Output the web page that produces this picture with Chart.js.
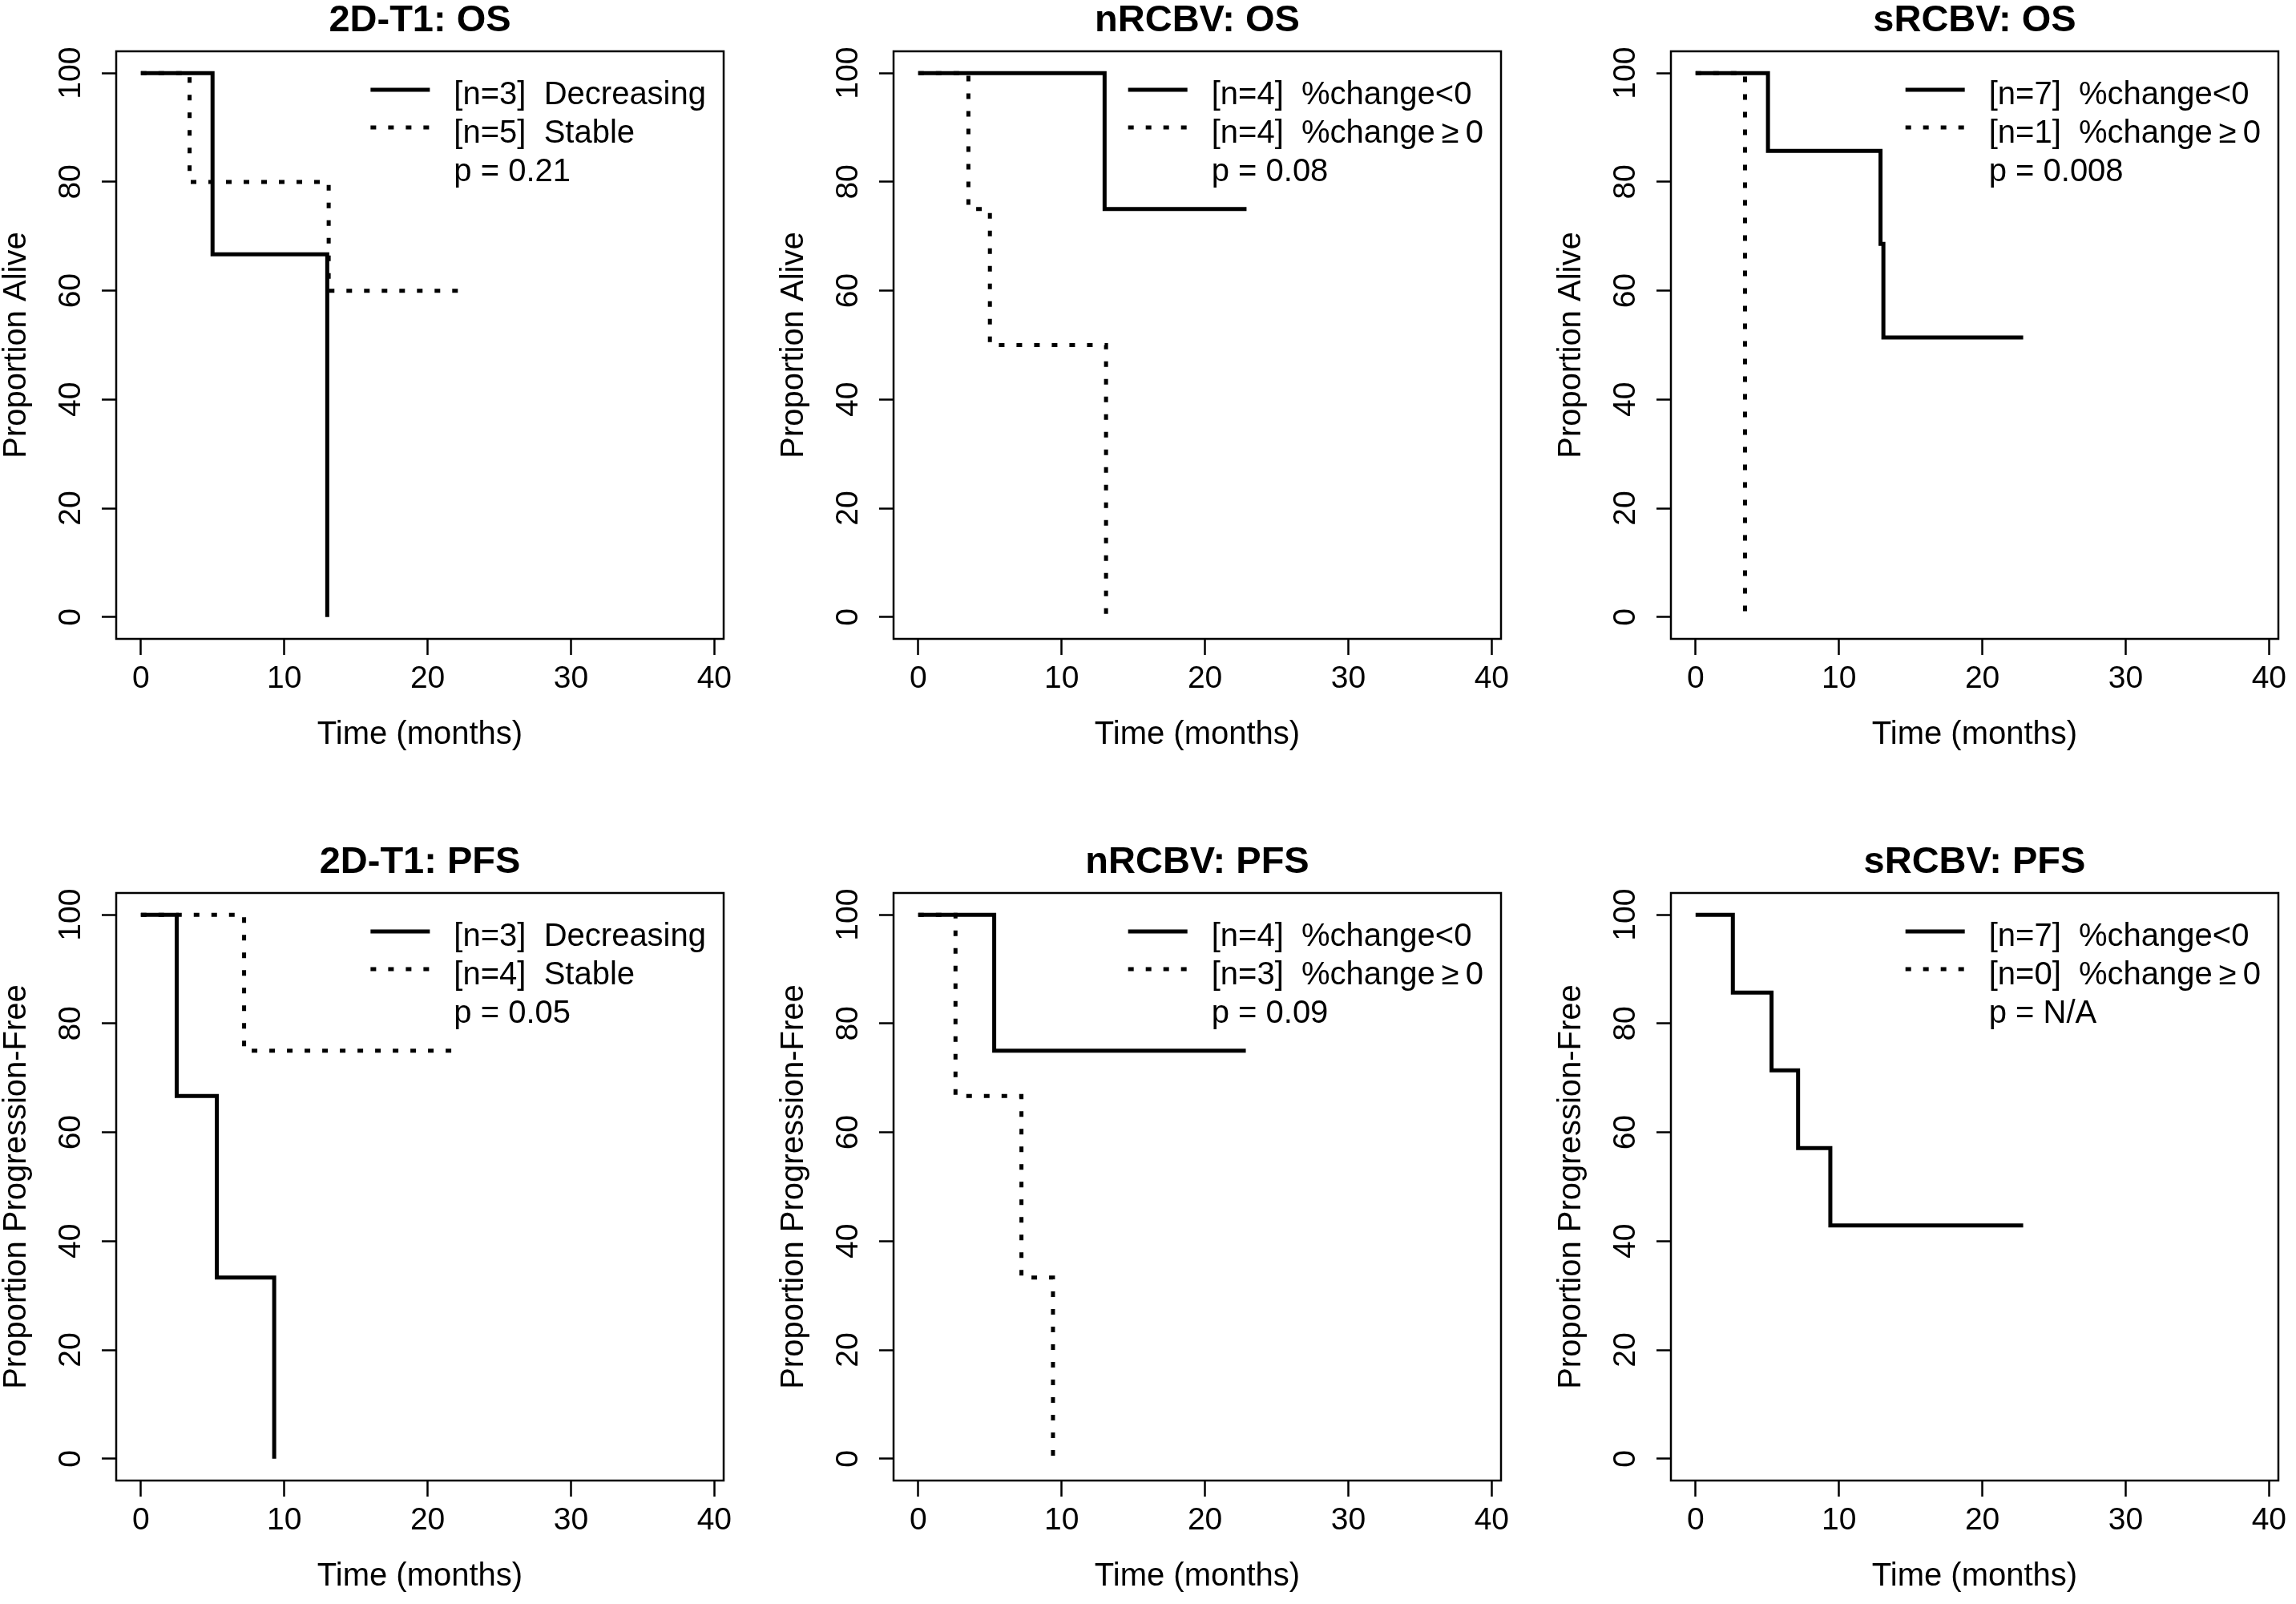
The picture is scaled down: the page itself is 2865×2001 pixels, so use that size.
<!DOCTYPE html>
<html>
<head>
<meta charset="utf-8">
<title>Kaplan-Meier curves</title>
<script src="https://cdn.jsdelivr.net/npm/chart.js@4/dist/chart.umd.min.js"></script>
<style>
  html, body { margin: 0; padding: 0; background: #fff; overflow: hidden; }
  #wrap { position: relative; width: 2865px; height: 2001px; background: #fff; }
  canvas { position: absolute; }
</style>
</head>
<body>
<div id="wrap"></div>
<script>
// ---------- data ----------
const xTickValues = [0, 10, 20, 30, 40];
const yTickValues = [0, 20, 40, 60, 80, 100];

const titles = ['2D-T1: OS', 'nRCBV: OS', 'sRCBV: OS', '2D-T1: PFS', 'nRCBV: PFS', 'sRCBV: PFS'];
const yTitles = ['Proportion Alive', 'Proportion Alive', 'Proportion Alive',
                 'Proportion Progression-Free', 'Proportion Progression-Free', 'Proportion Progression-Free'];
const xTitle = 'Time (months)';

const legendSolid = ['[n=3]  Decreasing', '[n=4]  %change<0', '[n=7]  %change<0',
                     '[n=3]  Decreasing', '[n=4]  %change<0', '[n=7]  %change<0'];
const legendDotted = ['[n=5]  Stable', '[n=4]  %change\u2009\u2265\u20090', '[n=1]  %change\u2009\u2265\u20090',
                      '[n=4]  Stable', '[n=3]  %change\u2009\u2265\u20090', '[n=0]  %change\u2009\u2265\u20090'];
const pValues = ['p = 0.21', 'p = 0.08', 'p = 0.008', 'p = 0.05', 'p = 0.09', 'p = N/A'];

// Kaplan-Meier step curves: time (months) and survival (%)
const osT1DecTime = [0, 5.0, 13.0];
const osT1DecSurv = [100, 66.7, 0];
const osT1StaTime = [0, 3.4, 13.1, 22.5];
const osT1StaSurv = [100, 80, 60, 60];

const osNNegTime = [0, 13.0, 22.9];
const osNNegSurv = [100, 75, 75];
const osNPosTime = [0, 3.5, 5.0, 13.1];
const osNPosSurv = [100, 75, 50, 0];

const osSNegTime = [0, 5.05, 12.9, 13.1, 22.85];
const osSNegSurv = [100, 85.7, 68.6, 51.4, 51.4];
const osSPosTime = [0, 3.45];
const osSPosSurv = [100, 0];

const pfsT1DecTime = [0, 2.5, 5.3, 9.3];
const pfsT1DecSurv = [100, 66.7, 33.3, 0];
const pfsT1StaTime = [0, 7.2, 21.9];
const pfsT1StaSurv = [100, 75, 75];

const pfsNNegTime = [0, 5.3, 22.85];
const pfsNNegSurv = [100, 75, 75];
const pfsNPosTime = [0, 2.6, 7.2, 9.4];
const pfsNPosSurv = [100, 66.7, 33.3, 0];

const pfsSNegTime = [0, 2.6, 5.3, 7.15, 9.4, 22.85];
const pfsSNegSurv = [100, 85.7, 71.4, 57.1, 42.9, 42.9];
const pfsSPosTime = [];
const pfsSPosSurv = [];

const solidCurves = [[osT1DecTime, osT1DecSurv], [osNNegTime, osNNegSurv], [osSNegTime, osSNegSurv],
                     [pfsT1DecTime, pfsT1DecSurv], [pfsNNegTime, pfsNNegSurv], [pfsSNegTime, pfsSNegSurv]];
const dottedCurves = [[osT1StaTime, osT1StaSurv], [osNPosTime, osNPosSurv], [osSPosTime, osSPosSurv],
                      [pfsT1StaTime, pfsT1StaSurv], [pfsNPosTime, pfsNPosSurv], [pfsSPosTime, pfsSPosSurv]];

// ---------- styling / layout ----------
const FONT = "'Liberation Sans', Arial, Helvetica, sans-serif";
Chart.defaults.font.family = FONT;
Chart.defaults.color = '#000';

const LINE_W = 5;
const DOT_DASH = [7, 15];
const CANVAS_W = 925, CANVAS_H = 950;

const boxPlugin = {
  id: 'plotBox',
  afterDraw(chart) {
    const { ctx, chartArea: a } = chart;
    ctx.save();
    ctx.strokeStyle = '#000';
    ctx.lineWidth = 2.5;
    ctx.strokeRect(a.left, a.top, a.right - a.left, a.bottom - a.top);
    ctx.restore();
  }
};

const kmLegendPlugin = {
  id: 'kmLegend',
  afterDraw(chart, args, opts) {
    const { ctx, chartArea: a } = chart;
    ctx.save();
    ctx.font = '40px ' + FONT;
    ctx.fillStyle = '#000';
    ctx.textAlign = 'left';
    ctx.textBaseline = 'alphabetic';
    const rows = [opts.solid, opts.dotted, opts.p];
    const maxW = Math.max(...rows.map(t => ctx.measureText(t).width));
    const textX = a.right - 22 - maxW;
    const segX1 = textX - 104, segX2 = textX - 30;
    // line samples
    ctx.strokeStyle = '#000';
    ctx.lineWidth = LINE_W;
    ctx.lineCap = 'butt';
    ctx.beginPath();
    ctx.moveTo(segX1, a.top + 48); ctx.lineTo(segX2, a.top + 48);
    ctx.stroke();
    ctx.setLineDash(DOT_DASH);
    ctx.beginPath();
    ctx.moveTo(segX1, a.top + 95); ctx.lineTo(segX2, a.top + 95);
    ctx.stroke();
    ctx.setLineDash([]);
    rows.forEach((t, i) => ctx.fillText(t, textX, a.top + 66 + i * 48));
    ctx.restore();
  }
};

function toPoints(curve) {
  return curve[0].map((t, i) => ({ x: t, y: curve[1][i] }));
}

const wrap = document.getElementById('wrap');
for (let k = 0; k < 6; k++) {
  const col = k % 3, row = Math.floor(k / 3);
  const cv = document.createElement('canvas');
  cv.width = CANVAS_W; cv.height = CANVAS_H;
  cv.style.width = CANVAS_W + 'px'; cv.style.height = CANVAS_H + 'px';
  cv.style.left = (col * 970) + 'px';
  cv.style.top = (row * 1050) + 'px';
  wrap.appendChild(cv);

  new Chart(cv.getContext('2d'), {
    type: 'line',
    data: {
      datasets: [
        {
          label: legendSolid[k],
          data: toPoints(solidCurves[k]),
          stepped: 'before',
          borderColor: '#000',
          borderWidth: LINE_W,
          borderCapStyle: 'butt',
          pointRadius: 0,
          fill: false
        },
        {
          label: legendDotted[k],
          data: toPoints(dottedCurves[k]),
          stepped: 'before',
          borderColor: '#000',
          borderWidth: LINE_W,
          borderDash: DOT_DASH,
          borderCapStyle: 'butt',
          pointRadius: 0,
          fill: false
        }
      ]
    },
    options: {
      responsive: false,
      animation: false,
      devicePixelRatio: 1,
      layout: { padding: { left: 0, right: 22, top: 0, bottom: 0 } },
      plugins: {
        legend: { display: false },
        tooltip: { enabled: false },
        title: {
          display: true,
          text: titles[k],
          fullSize: false,
          color: '#000',
          font: { size: 47, weight: 'bold', lineHeight: 1.1064 },
          padding: { top: 0, bottom: 12 }
        },
        kmLegend: { solid: legendSolid[k], dotted: legendDotted[k], p: pValues[k] }
      },
      scales: {
        x: {
          type: 'linear',
          min: -1.72,
          max: 40.65,
          afterFit: s => { s.height = 153; },
          afterBuildTicks: s => { s.ticks = xTickValues.map(v => ({ value: v })); },
          ticks: { maxRotation: 0, autoSkip: false, padding: 7, color: '#000', font: { size: 39 } },
          grid: { drawOnChartArea: false, drawTicks: true, tickLength: 20, tickColor: '#000', tickWidth: 2.5 },
          border: { display: false },
          title: { display: true, text: xTitle, color: '#000', font: { size: 40, lineHeight: 1 }, padding: { top: 0, bottom: 13 } }
        },
        y: {
          type: 'linear',
          min: -4,
          max: 104,
          afterFit: s => { s.width = 145; },
          afterBuildTicks: s => { s.ticks = yTickValues.map(v => ({ value: v })); },
          ticks: { minRotation: 90, maxRotation: 90, crossAlign: 'center', autoSkip: false, padding: 5.5, color: '#000', font: { size: 39 } },
          grid: { drawOnChartArea: false, drawTicks: true, tickLength: 18, tickColor: '#000', tickWidth: 2.5 },
          border: { display: false },
          title: { display: true, text: yTitles[k], color: '#000', font: { size: 40, lineHeight: 1 }, padding: { top: 1, bottom: 0 } }
        }
      }
    },
    plugins: [boxPlugin, kmLegendPlugin]
  });
}
</script>
</body>
</html>
